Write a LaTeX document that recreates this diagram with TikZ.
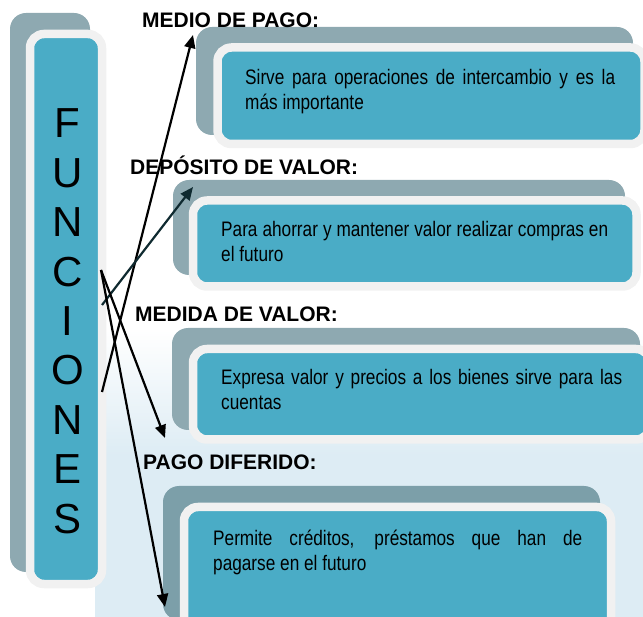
\documentclass[tikz,border=0pt]{standalone}
\usepackage{fontspec}
\setmainfont{Liberation Sans}
\newfontfamily\narrowf[FakeStretch=0.82]{Liberation Sans}
\usetikzlibrary{positioning,arrows.meta}

\begin{document}
\begin{tikzpicture}[
            x=1pt,y=-1pt,
            node distance=0pt
        ]
            \definecolor{tlx}{HTML}{4AACC6}
            \definecolor{gyx}{HTML}{8EA9B1}
            \definecolor{gdx}{HTML}{7C9FA9}
            \definecolor{wtx}{HTML}{F1F1F1}
            \definecolor{bgx}{HTML}{DDECF4}
            \definecolor{dkx}{HTML}{0F2A30}
            \tikzset{
                backbox/.style={fill=gyx,rounded corners=16pt,inner sep=0pt},
                frontbox/.style={fill=tlx,draw=wtx,line width=8.5pt,rounded corners=14pt,inner sep=0pt},
                heading/.style={font=\bfseries\fontsize{21}{25}\selectfont,anchor=base west,inner sep=0pt},
                body/.style={font=\narrowf\fontsize{21}{25}\selectfont,anchor=north west,inner sep=0pt,align=left},
                link/.style={line width=2.2pt,-{Triangle[length=13pt,width=11pt]}}
            }

            \useasboundingbox (0,0) rectangle (643,617);
            \fill[bgx] (95,455) rectangle (643,617);
            \shade[top color=white,bottom color=bgx] (95,330) rectangle (643,455);

            \node[backbox,minimum width=80,minimum height=559] (fback) at (50,292.5) {};
            \node[frontbox,minimum width=72,minimum height=550] (fun) at (66,309) {};
            \begin{scope}[
                every node/.style={font=\fontsize{42}{42}\selectfont,minimum height=49.4pt,
                    text height=30pt,text depth=0pt,inner sep=0pt,outer sep=0pt}
            ]
                \node (l1) at (67.5,123) {F};
                \node (l2) [below=of l1] {U};
                \node (l3) [below=of l2] {N};
                \node (l4) [below=of l3] {C};
                \node (l5) [below=of l4] {I};
                \node (l6) [below=of l5] {O};
                \node (l7) [below=of l6] {N};
                \node (l8) [below=of l7] {E};
                \node (l9) [below=of l8] {S};
            \end{scope}

            \node[backbox,minimum width=437,minimum height=108] (gMedio) at (414.5,81) {};
            \node[frontbox,minimum width=427,minimum height=96.5] (bMedio) at (431,95.75) {};
            \node[body] (tMedio) at (245,69.5) {\makebox[370pt][s]{Sirve para operaciones de intercambio y es la}\\más importante};

            \node[backbox,minimum width=452,minimum height=95] (gDeposito) at (399,227.5) {};
            \node[frontbox,minimum width=443.5,minimum height=86] (bDeposito) at (414.75,243.5) {};
            \node[body] (tDeposito) at (221,221.5) {\makebox[387pt][s]{Para ahorrar y mantener valor realizar compras en}\\el futuro};

            \node[backbox,minimum width=468,minimum height=102] (gMedida) at (406,379) {};
            \node[frontbox,minimum width=457,minimum height=90.5] (bMedida) at (421.5,394.25) {};
            \node[body] (tMedida) at (221,369.5) {\makebox[401pt][s]{Expresa valor y precios a los bienes sirve para las}\\cuentas};

            \node[backbox,fill=gdx,minimum width=437,minimum height=134] (gPago) at (381.5,553) {};
            \node[frontbox,minimum width=427,minimum height=133] (bPago) at (397.5,573.5) {};
            \node[body] (tPago) at (213,529.5) {\makebox[369pt][s]{Permite créditos, préstamos que han de}\\pagarse en el futuro};

            \node[heading] (hMedio) at (142,28) {MEDIO DE PAGO:};
            \node[heading] (hDeposito) at (130,175) {DEPÓSITO DE VALOR:};
            \node[heading] (hMedida) at (135,322) {MEDIDA DE VALOR:};
            \node[heading] (hPago) at (143,470) {PAGO DIFERIDO:};

            \coordinate (sA) at (101,270);
            \coordinate (sB) at (102,305);
            \coordinate (sC) at (102,392);
            \coordinate (eMedio) at (193,35);
            \coordinate (eDeposito) at (193,187);
            \coordinate (eMedida) at (165,438);
            \coordinate (ePago) at (165,607);
            \draw[link] (sC) -- (eMedio);
            \draw[link,color=dkx] (sB) -- (eDeposito);
            \draw[link] (sA) -- (eMedida);
            \draw[link] (sA) -- (ePago);
        \end{tikzpicture}
\end{document}
